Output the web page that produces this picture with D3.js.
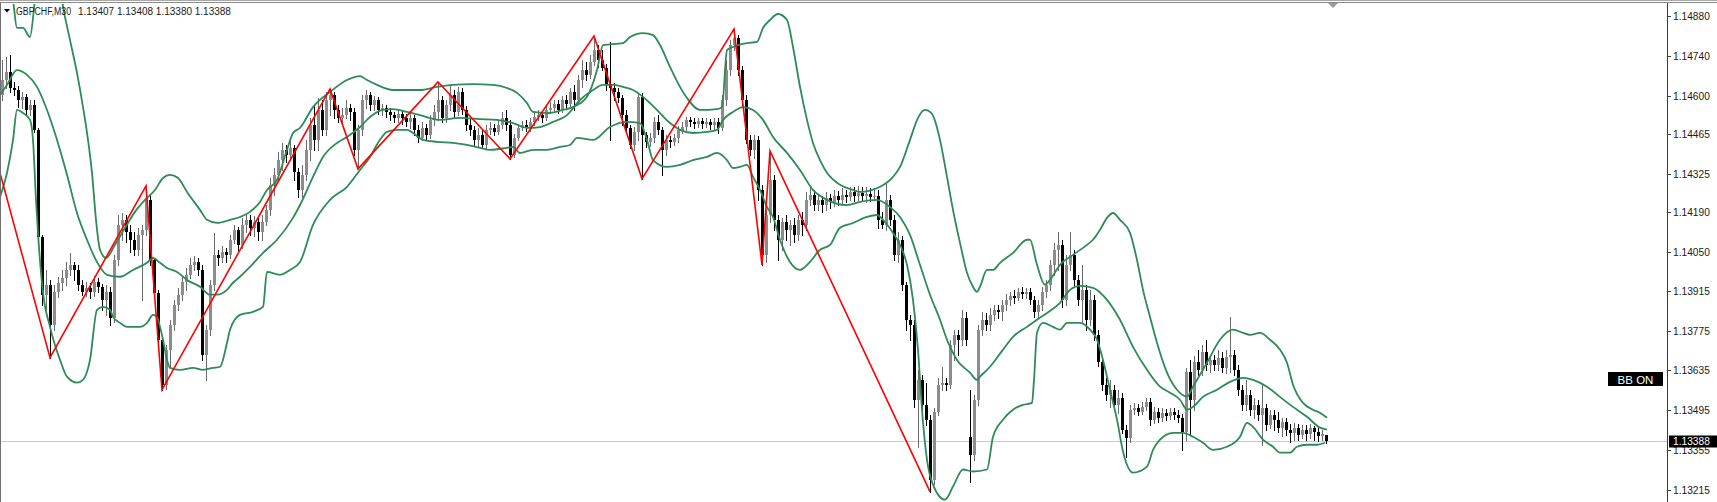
<!DOCTYPE html>
<html><head><meta charset="utf-8">
<script src="https://cdn.jsdelivr.net/npm/d3@7"></script>
<style>html,body{margin:0;padding:0;background:#fff;overflow:hidden}</style>
</head><body>
<svg id="chart" width="1717" height="502"></svg>
<script>
const symbolTitle = "GBPCHF,M30";
const lastQuote = "1.13407 1.13408 1.13380 1.13388";
const bidPrice = 1.13388;
const bidLabel = "1.13388";
const indicatorLabel = "BB ON";
const tickLabels = ["1.14880","1.14740","1.14600","1.14465","1.14325","1.14190","1.14050","1.13915","1.13775","1.13635","1.13495","1.13355","1.13215"];

const open = [1.14603,1.14655,1.14683,1.14627,1.14620,1.14585,1.14596,1.14550,1.14567,1.14480,1.14104,1.13901,1.13936,1.13795,1.13911,1.13943,1.13960,1.13988,1.14006,1.13988,
1.13936,1.13911,1.13925,1.13911,1.13946,1.13929,1.13883,1.13911,1.13820,1.14023,1.14146,1.14164,1.14122,1.14094,1.14059,1.14111,1.14129,1.14234,1.14023,1.13908,
1.13743,1.13585,1.13708,1.13795,1.13865,1.13901,1.13946,1.13971,1.14006,1.14016,1.13988,1.13690,1.13778,1.13936,1.14041,1.14030,1.14052,1.14041,1.14094,1.14129,
1.14076,1.14146,1.14164,1.14136,1.14157,1.14122,1.14157,1.14199,1.14287,1.14322,1.14374,1.14410,1.14392,1.14417,1.14332,1.14269,1.14322,1.14410,1.14497,1.14445,
1.14550,1.14480,1.14585,1.14603,1.14550,1.14522,1.14532,1.14557,1.14543,1.14410,1.14480,1.14585,1.14603,1.14567,1.14585,1.14550,1.14557,1.14543,1.14532,1.14522,
1.14536,1.14522,1.14508,1.14522,1.14480,1.14452,1.14487,1.14462,1.14515,1.14543,1.14585,1.14522,1.14567,1.14603,1.14543,1.14613,1.14550,1.14497,1.14480,1.14445,
1.14462,1.14427,1.14480,1.14487,1.14473,1.14497,1.14522,1.14497,1.14392,1.14452,1.14487,1.14497,1.14487,1.14508,1.14525,1.14532,1.14522,1.14550,1.14557,1.14571,
1.14550,1.14585,1.14571,1.14613,1.14585,1.14655,1.14690,1.14673,1.14718,1.14760,1.14725,1.14697,1.14638,1.14627,1.14613,1.14592,1.14532,1.14487,1.14427,1.14473,
1.14596,1.14462,1.14438,1.14452,1.14508,1.14480,1.14410,1.14445,1.14438,1.14452,1.14480,1.14490,1.14515,1.14508,1.14501,1.14511,1.14501,1.14508,1.14497,1.14508,
1.14487,1.14585,1.14690,1.14778,1.14803,1.14690,1.14585,1.14445,1.14410,1.14445,1.14269,1.14041,1.14181,1.14304,1.14164,1.14094,1.14157,1.14129,1.14146,1.14111,
1.14164,1.14146,1.14234,1.14252,1.14216,1.14234,1.14216,1.14241,1.14227,1.14248,1.14234,1.14252,1.14245,1.14262,1.14248,1.14259,1.14248,1.14255,1.14245,1.14248,
1.14164,1.14146,1.14234,1.14164,1.14041,1.14094,1.13936,1.13813,1.13795,1.13532,1.13602,1.13514,1.13462,1.13251,1.13490,1.13585,1.13592,1.13585,1.13725,1.13760,
1.13743,1.13820,1.13402,1.13339,1.13532,1.13778,1.13813,1.13795,1.13830,1.13848,1.13841,1.13865,1.13883,1.13897,1.13890,1.13911,1.13904,1.13911,1.13883,1.13841,
1.13865,1.13911,1.13936,1.14006,1.14059,1.14076,1.13883,1.14006,1.14041,1.13953,1.13883,1.13918,1.13813,1.13883,1.13760,1.13665,1.13585,1.13550,1.13567,1.13514,
1.13539,1.13427,1.13399,1.13497,1.13504,1.13490,1.13507,1.13525,1.13462,1.13490,1.13469,1.13486,1.13476,1.13490,1.13479,1.13469,1.13420,1.13630,1.13532,1.13665,
1.13637,1.13701,1.13655,1.13672,1.13655,1.13679,1.13644,1.13683,1.13690,1.13637,1.13567,1.13514,1.13550,1.13497,1.13514,1.13479,1.13504,1.13444,1.13479,1.13462,
1.13434,1.13455,1.13427,1.13416,1.13434,1.13409,1.13427,1.13413,1.13434,1.13420,1.13406,1.13407];

const high = [1.14725,1.14736,1.14743,1.14648,1.14634,1.14613,1.14606,1.14585,1.14585,1.14487,1.14111,1.13988,1.13953,1.13936,1.13964,1.13988,1.14016,1.14048,1.14016,1.14006,
1.13953,1.13946,1.13943,1.13967,1.13960,1.13939,1.13936,1.13929,1.14041,1.14181,1.14188,1.14181,1.14146,1.14122,1.14136,1.14146,1.14283,1.14252,1.14030,1.13918,
1.13753,1.13725,1.13813,1.13883,1.13925,1.13967,1.13995,1.14030,1.14037,1.14030,1.14006,1.13795,1.13953,1.14118,1.14059,1.14073,1.14066,1.14111,1.14146,1.14139,
1.14171,1.14185,1.14181,1.14178,1.14174,1.14181,1.14216,1.14311,1.14346,1.14402,1.14434,1.14427,1.14445,1.14427,1.14346,1.14357,1.14445,1.14522,1.14567,1.14592,
1.14585,1.14613,1.14624,1.14613,1.14567,1.14557,1.14585,1.14571,1.14557,1.14497,1.14603,1.14620,1.14613,1.14599,1.14596,1.14571,1.14567,1.14557,1.14543,1.14550,
1.14550,1.14536,1.14543,1.14532,1.14497,1.14508,1.14501,1.14532,1.14567,1.14648,1.14599,1.14585,1.14638,1.14620,1.14631,1.14627,1.14564,1.14522,1.14494,1.14487,
1.14480,1.14497,1.14508,1.14501,1.14515,1.14543,1.14550,1.14515,1.14466,1.14501,1.14511,1.14515,1.14522,1.14543,1.14550,1.14543,1.14564,1.14578,1.14585,1.14585,
1.14599,1.14603,1.14627,1.14638,1.14673,1.14725,1.14718,1.14743,1.14810,1.14778,1.14760,1.14711,1.14789,1.14645,1.14627,1.14603,1.14550,1.14497,1.14490,1.14610,
1.14610,1.14473,1.14469,1.14525,1.14532,1.14490,1.14462,1.14459,1.14466,1.14494,1.14508,1.14525,1.14525,1.14522,1.14522,1.14522,1.14522,1.14518,1.14522,1.14522,
1.14603,1.14725,1.14796,1.14834,1.14813,1.14704,1.14603,1.14462,1.14462,1.14459,1.14287,1.14199,1.14406,1.14322,1.14181,1.14171,1.14181,1.14164,1.14171,1.14181,
1.14192,1.14262,1.14276,1.14269,1.14252,1.14248,1.14262,1.14255,1.14269,1.14266,1.14276,1.14269,1.14280,1.14280,1.14283,1.14280,1.14280,1.14276,1.14276,1.14269,
1.14192,1.14294,1.14252,1.14181,1.14122,1.14108,1.13946,1.13830,1.13813,1.13637,1.13620,1.13592,1.13479,1.13504,1.13609,1.13648,1.13609,1.13743,1.13778,1.13778,
1.13848,1.13841,1.13567,1.13550,1.13795,1.13841,1.13837,1.13855,1.13865,1.13865,1.13883,1.13904,1.13911,1.13918,1.13925,1.13929,1.13925,1.13925,1.13897,1.13883,
1.13929,1.13953,1.14023,1.14083,1.14122,1.14094,1.14041,1.14122,1.14059,1.13971,1.14006,1.13936,1.13918,1.13901,1.13778,1.13683,1.13609,1.13602,1.13585,1.13567,
1.13557,1.13444,1.13514,1.13522,1.13518,1.13525,1.13539,1.13539,1.13507,1.13504,1.13504,1.13500,1.13504,1.13504,1.13497,1.13483,1.13644,1.13672,1.13686,1.13708,
1.13725,1.13743,1.13690,1.13690,1.13708,1.13701,1.13708,1.13823,1.13708,1.13655,1.13585,1.13602,1.13567,1.13539,1.13532,1.13585,1.13518,1.13497,1.13497,1.13490,
1.13469,1.13469,1.13448,1.13451,1.13448,1.13444,1.13444,1.13448,1.13441,1.13434,1.13427,1.13408];

const low = [1.14585,1.14627,1.14613,1.14603,1.14560,1.14557,1.14536,1.14532,1.14473,1.14094,1.13865,1.13848,1.13680,1.13778,1.13894,1.13918,1.13936,1.13971,1.13953,1.13918,
1.13901,1.13897,1.13890,1.13897,1.13911,1.13848,1.13830,1.13795,1.13806,1.14006,1.14094,1.14087,1.14052,1.14041,1.14041,1.13883,1.14111,1.14006,1.13897,1.13736,
1.13567,1.13570,1.13648,1.13778,1.13848,1.13883,1.13918,1.13960,1.13988,1.13971,1.13672,1.13602,1.13760,1.13918,1.14006,1.14016,1.14016,1.14030,1.14083,1.14059,
1.14066,1.14122,1.14111,1.14108,1.14094,1.14094,1.14146,1.14181,1.14252,1.14304,1.14339,1.14367,1.14374,1.14304,1.14245,1.14245,1.14304,1.14374,1.14410,1.14410,
1.14462,1.14462,1.14532,1.14522,1.14508,1.14497,1.14522,1.14515,1.14392,1.14343,1.14462,1.14557,1.14550,1.14550,1.14536,1.14532,1.14525,1.14515,1.14508,1.14508,
1.14501,1.14494,1.14487,1.14462,1.14438,1.14445,1.14445,1.14452,1.14497,1.14515,1.14508,1.14508,1.14550,1.14525,1.14532,1.14536,1.14480,1.14462,1.14427,1.14420,
1.14417,1.14417,1.14466,1.14462,1.14466,1.14487,1.14480,1.14378,1.14385,1.14445,1.14480,1.14476,1.14476,1.14497,1.14515,1.14508,1.14515,1.14539,1.14550,1.14539,
1.14543,1.14557,1.14564,1.14550,1.14571,1.14631,1.14655,1.14662,1.14708,1.14701,1.14690,1.14620,1.14445,1.14585,1.14578,1.14497,1.14473,1.14417,1.14410,1.14445,
1.14308,1.14420,1.14424,1.14438,1.14466,1.14322,1.14392,1.14420,1.14427,1.14438,1.14469,1.14480,1.14494,1.14487,1.14490,1.14487,1.14490,1.14483,1.14480,1.14469,
1.14480,1.14567,1.14673,1.14760,1.14673,1.14567,1.14434,1.14392,1.14381,1.14234,1.14006,1.14016,1.14157,1.14129,1.14023,1.14059,1.14094,1.14076,1.14087,1.14094,
1.14111,1.14129,1.14216,1.14199,1.14199,1.14192,1.14199,1.14206,1.14213,1.14216,1.14220,1.14227,1.14234,1.14231,1.14234,1.14234,1.14227,1.14231,1.14234,1.14136,
1.14136,1.14129,1.14146,1.14023,1.14016,1.13918,1.13778,1.13743,1.13507,1.13367,1.13486,1.13444,1.13209,1.13237,1.13479,1.13567,1.13567,1.13574,1.13672,1.13690,
1.13725,1.13725,1.13244,1.13321,1.13514,1.13760,1.13778,1.13778,1.13813,1.13820,1.13813,1.13848,1.13865,1.13872,1.13883,1.13890,1.13890,1.13869,1.13823,1.13820,
1.13848,1.13894,1.13918,1.13971,1.13988,1.13858,1.13865,1.13988,1.13936,1.13865,1.13802,1.13778,1.13795,1.13743,1.13651,1.13567,1.13532,1.13507,1.13497,1.13486,
1.13416,1.13332,1.13385,1.13483,1.13479,1.13483,1.13497,1.13444,1.13451,1.13455,1.13458,1.13462,1.13465,1.13465,1.13455,1.13356,1.13392,1.13409,1.13497,1.13620,
1.13620,1.13637,1.13630,1.13637,1.13637,1.13630,1.13627,1.13630,1.13620,1.13550,1.13497,1.13497,1.13479,1.13469,1.13462,1.13374,1.13427,1.13434,1.13427,1.13420,
1.13406,1.13409,1.13385,1.13392,1.13392,1.13399,1.13392,1.13399,1.13392,1.13388,1.13392,1.13380];

const close = [1.14655,1.14683,1.14627,1.14620,1.14585,1.14596,1.14550,1.14567,1.14480,1.14104,1.13901,1.13936,1.13795,1.13911,1.13943,1.13960,1.13988,1.14006,1.13988,1.13936,
1.13911,1.13925,1.13911,1.13946,1.13929,1.13883,1.13911,1.13820,1.14023,1.14146,1.14164,1.14122,1.14094,1.14059,1.14111,1.14129,1.14234,1.14023,1.13908,1.13743,
1.13585,1.13708,1.13795,1.13865,1.13901,1.13946,1.13971,1.14006,1.14016,1.13988,1.13690,1.13778,1.13936,1.14041,1.14030,1.14052,1.14041,1.14094,1.14129,1.14076,
1.14146,1.14164,1.14136,1.14157,1.14122,1.14157,1.14199,1.14287,1.14322,1.14374,1.14410,1.14392,1.14417,1.14332,1.14269,1.14322,1.14410,1.14497,1.14445,1.14550,
1.14480,1.14585,1.14603,1.14550,1.14522,1.14532,1.14557,1.14543,1.14410,1.14480,1.14585,1.14603,1.14567,1.14585,1.14550,1.14557,1.14543,1.14532,1.14522,1.14536,
1.14522,1.14508,1.14522,1.14480,1.14452,1.14487,1.14462,1.14515,1.14543,1.14585,1.14522,1.14567,1.14603,1.14543,1.14613,1.14550,1.14497,1.14480,1.14445,1.14462,
1.14427,1.14480,1.14487,1.14473,1.14497,1.14522,1.14497,1.14392,1.14452,1.14487,1.14497,1.14487,1.14508,1.14525,1.14532,1.14522,1.14550,1.14557,1.14571,1.14550,
1.14585,1.14571,1.14613,1.14585,1.14655,1.14690,1.14673,1.14718,1.14760,1.14725,1.14697,1.14638,1.14627,1.14613,1.14592,1.14532,1.14487,1.14427,1.14473,1.14596,
1.14462,1.14438,1.14452,1.14508,1.14480,1.14410,1.14445,1.14438,1.14452,1.14480,1.14490,1.14515,1.14508,1.14501,1.14511,1.14501,1.14508,1.14497,1.14508,1.14487,
1.14585,1.14690,1.14778,1.14803,1.14690,1.14585,1.14445,1.14410,1.14445,1.14269,1.14041,1.14181,1.14304,1.14164,1.14094,1.14157,1.14129,1.14146,1.14111,1.14164,
1.14146,1.14234,1.14252,1.14216,1.14234,1.14216,1.14241,1.14227,1.14248,1.14234,1.14252,1.14245,1.14262,1.14248,1.14259,1.14248,1.14255,1.14245,1.14248,1.14164,
1.14146,1.14234,1.14164,1.14041,1.14094,1.13936,1.13813,1.13795,1.13532,1.13602,1.13514,1.13462,1.13251,1.13490,1.13585,1.13592,1.13585,1.13725,1.13760,1.13743,
1.13820,1.13743,1.13339,1.13532,1.13778,1.13813,1.13795,1.13830,1.13848,1.13841,1.13865,1.13883,1.13897,1.13890,1.13911,1.13904,1.13911,1.13883,1.13841,1.13865,
1.13911,1.13936,1.14006,1.14059,1.14076,1.13883,1.14006,1.14041,1.13953,1.13883,1.13918,1.13813,1.13883,1.13760,1.13665,1.13585,1.13550,1.13567,1.13514,1.13539,
1.13427,1.13399,1.13497,1.13504,1.13490,1.13507,1.13525,1.13462,1.13490,1.13469,1.13486,1.13476,1.13490,1.13479,1.13469,1.13420,1.13630,1.13532,1.13665,1.13637,
1.13701,1.13655,1.13672,1.13655,1.13679,1.13644,1.13683,1.13690,1.13637,1.13567,1.13514,1.13550,1.13497,1.13514,1.13479,1.13504,1.13444,1.13479,1.13462,1.13434,
1.13455,1.13427,1.13416,1.13434,1.13409,1.13427,1.13413,1.13434,1.13420,1.13406,1.13413,1.13388];

// Bollinger band lines: [bar index, price]
const upperBand = [[-5.5,1.15217],[0.75,1.15041],[2.75,1.14936],[3.75,1.14838],[5.25,1.14838],[7,1.14806],[8.25,1.14936],[10.75,1.15147],[13.25,1.15147],[15,1.14936],[17,1.14796],[18.75,1.14680],[20.25,1.14560],[21.5,1.14445],[22.5,1.14329],[23.5,1.14164],[24.5,1.14059],[26,1.14030],[28.25,1.14076],[30.75,1.14136],[33.25,1.14192],[35.75,1.14234],[38.25,1.14269],[40.25,1.14311],[42,1.14322],[44,1.14311],[46.25,1.14262],[49.5,1.14199],[51.25,1.14164],[53.75,1.14153],[57,1.14164],[59.5,1.14174],[62,1.14192],[64.5,1.14227],[66.25,1.14269],[68.75,1.14304],[71.25,1.14410],[72.75,1.14469],[74.5,1.14487],[77.75,1.14560],[82,1.14613],[86.25,1.14655],[89.5,1.14669],[91.25,1.14655],[93.75,1.14638],[97.75,1.14620],[104.5,1.14620],[108.75,1.14631],[112.75,1.14638],[117.75,1.14641],[122.75,1.14638],[126.25,1.14627],[128.75,1.14610],[131.25,1.14574],[132.75,1.14543],[136.25,1.14539],[140.25,1.14550],[142.75,1.14560],[146.25,1.14596],[148.75,1.14690],[150.25,1.14778],[155.25,1.14785],[157,1.14806],[160.25,1.14820],[162.75,1.14813],[164.5,1.14778],[167,1.14701],[169.5,1.14631],[171.25,1.14592],[174.5,1.14550],[178.75,1.14553],[180,1.14560],[181.25,1.14760],[182.75,1.14771],[186.25,1.14785],[188.75,1.14789],[190.25,1.14838],[192,1.14866],[194,1.14887],[196.25,1.14866],[197.75,1.14771],[199.5,1.14631],[201.25,1.14515],[202.75,1.14434],[204.5,1.14374],[206.25,1.14329],[209.5,1.14287],[212.75,1.14269],[214.5,1.14262],[219.5,1.14280],[222.75,1.14315],[224.5,1.14350],[227,1.14445],[229,1.14522],[230.75,1.14550],[232.5,1.14536],[234.5,1.14445],[236.25,1.14315],[237.75,1.14199],[239.5,1.14083],[241.25,1.13978],[242.75,1.13929],[243.75,1.13911],[244.5,1.13929],[246.25,1.13988],[247.75,1.13988],[249.5,1.14013],[252.75,1.14048],[256.25,1.14094],[257,1.14094],[258.75,1.14006],[260.75,1.13936],[262,1.13953],[264.5,1.14006],[267.75,1.14041],[271.25,1.14076],[272.75,1.14094],[274.5,1.14129],[276.25,1.14171],[277.75,1.14188],[279.5,1.14164],[282,1.14118],[283.75,1.14023],[285.25,1.13918],[287,1.13823],[288.75,1.13732],[291.25,1.13627],[293.75,1.13567],[296.25,1.13543],[297.75,1.13578],[301.25,1.13662],[304.5,1.13743],[307.75,1.13778],[310.25,1.13767],[312,1.13760],[314.5,1.13767],[317,1.13743],[319.5,1.13708],[321.25,1.13662],[322.75,1.13585],[325.25,1.13521],[327.75,1.13497],[329.5,1.13486],[331.25,1.13469]];

const middleBand = [[-0.5,1.14603],[1.25,1.14638],[3.75,1.14690],[6.25,1.14673],[8.75,1.14631],[11.25,1.14550],[13.75,1.14445],[16.25,1.14322],[18.75,1.14188],[21.25,1.14094],[23.75,1.14016],[26.25,1.13971],[29.5,1.13964],[32.75,1.13988],[36.25,1.14013],[37.75,1.14030],[39.5,1.14013],[41.25,1.13995],[43.75,1.13981],[46.25,1.13953],[49.5,1.13929],[52,1.13901],[53.75,1.13901],[56.25,1.13918],[57.75,1.13943],[59.5,1.13964],[62,1.13999],[65.25,1.14048],[68.75,1.14094],[72.75,1.14171],[74.5,1.14216],[77.75,1.14315],[80.25,1.14385],[83.75,1.14434],[86.25,1.14455],[89.5,1.14490],[92,1.14525],[95.25,1.14550],[97.75,1.14553],[101.25,1.14543],[104.5,1.14532],[109.5,1.14515],[114.5,1.14522],[119.5,1.14518],[123.75,1.14515],[127.75,1.14504],[131.25,1.14487],[134.5,1.14490],[137.75,1.14508],[141.25,1.14532],[144.5,1.14585],[147.75,1.14620],[150.25,1.14638],[152.75,1.14638],[155.25,1.14631],[157.75,1.14620],[160.25,1.14596],[162,1.14574],[164.5,1.14539],[167,1.14504],[169.5,1.14480],[172.75,1.14469],[176.25,1.14473],[178.75,1.14480],[180.25,1.14515],[182.75,1.14543],[185.25,1.14560],[187.75,1.14550],[190.25,1.14515],[192.75,1.14455],[196.25,1.14399],[199.5,1.14339],[202.75,1.14269],[206.25,1.14234],[211.25,1.14216],[214.5,1.14227],[218.75,1.14234],[222,1.14209],[224.5,1.14174],[227,1.14111],[229.5,1.14006],[232,1.13901],[234.5,1.13813],[236.25,1.13743],[238.75,1.13672],[242,1.13627],[243.75,1.13602],[244.5,1.13613],[247,1.13648],[250.25,1.13708],[252.75,1.13753],[256.25,1.13788],[258.75,1.13813],[261.25,1.13837],[264.5,1.13872],[267,1.13918],[269.5,1.13932],[272.75,1.13925],[276.25,1.13883],[279.5,1.13813],[282.75,1.13718],[286.25,1.13637],[289.5,1.13578],[292,1.13557],[294.5,1.13532],[296.25,1.13497],[297.75,1.13507],[300.25,1.13542],[303.75,1.13567],[307,1.13595],[310.25,1.13609],[312.75,1.13602],[316.25,1.13578],[319.5,1.13542],[322.75,1.13507],[326.25,1.13472],[329.5,1.13434],[331.25,1.13427]];

const lowerBand = [[-0.5,1.14245],[1.25,1.14329],[2.75,1.14445],[3.75,1.14550],[5.25,1.14539],[7,1.14515],[7.75,1.14445],[8.5,1.14234],[9,1.14118],[10.25,1.13908],[12,1.13788],[14.5,1.13672],[16.25,1.13613],[18.75,1.13592],[20.25,1.13602],[22,1.13672],[23.75,1.13848],[25.25,1.13858],[27,1.13848],[27.75,1.13823],[29.5,1.13802],[31.25,1.13788],[34.5,1.13788],[36.25,1.13802],[37.75,1.13830],[38.75,1.13823],[39.5,1.13788],[40.25,1.13743],[41.25,1.13672],[42,1.13644],[44.5,1.13637],[47.75,1.13644],[50.25,1.13637],[52.75,1.13644],[54.5,1.13648],[56.25,1.13732],[57,1.13778],[59.5,1.13830],[62.75,1.13841],[65.25,1.13858],[66.25,1.13981],[69.5,1.13971],[72,1.13988],[74.5,1.14016],[77.75,1.14146],[82,1.14234],[86.25,1.14280],[89.5,1.14339],[92,1.14385],[94.5,1.14445],[96.25,1.14473],[98.75,1.14480],[101.25,1.14480],[102.75,1.14469],[105.25,1.14445],[108.75,1.14438],[112.75,1.14434],[116.25,1.14427],[119.5,1.14417],[122,1.14410],[126.25,1.14417],[127.75,1.14420],[129.5,1.14399],[132.75,1.14410],[136.25,1.14410],[139.5,1.14420],[142,1.14427],[143.75,1.14452],[147.75,1.14445],[152,1.14490],[156.25,1.14508],[159.5,1.14504],[161.25,1.14445],[162.75,1.14374],[166.25,1.14350],[169.5,1.14357],[172.75,1.14374],[176.25,1.14385],[178.75,1.14399],[181.25,1.14374],[182.75,1.14346],[184.5,1.14350],[186.25,1.14357],[187.75,1.14315],[189.5,1.14269],[191.25,1.14209],[192.75,1.14174],[194.5,1.14094],[197,1.14016],[199.5,1.13988],[202,1.14016],[204.5,1.14059],[207,1.14076],[209.5,1.14136],[212.75,1.14153],[216.25,1.14174],[218.75,1.14181],[220.25,1.14164],[222.75,1.14118],[224.5,1.14076],[226.25,1.14006],[227.75,1.13883],[229,1.13708],[230,1.13497],[231.25,1.13321],[232.75,1.13234],[235.75,1.13181],[237.75,1.13227],[240.25,1.13287],[242.75,1.13280],[246.25,1.13287],[247.75,1.13402],[250.25,1.13462],[252.75,1.13497],[255.25,1.13514],[257.5,1.13521],[258,1.13602],[258.75,1.13767],[260.25,1.13802],[262.75,1.13788],[264.5,1.13778],[266.25,1.13802],[269.5,1.13802],[272,1.13778],[273.75,1.13743],[275.25,1.13672],[277,1.13567],[278.75,1.13462],[280.25,1.13350],[282.75,1.13276],[286.25,1.13297],[287.75,1.13356],[289.5,1.13392],[292.75,1.13416],[295.25,1.13416],[297.75,1.13402],[300.25,1.13381],[302.75,1.13356],[306.25,1.13367],[309.5,1.13402],[311.25,1.13451],[312.75,1.13437],[315.25,1.13392],[317.75,1.13367],[319.5,1.13346],[322,1.13346],[323.75,1.13367],[326.25,1.13374],[328.75,1.13374],[330.75,1.13381]];

const zigzag = [[-0.5,1.14329],[12,1.13680],[36,1.14283],[40,1.13567],[82,1.14624],[89,1.14343],[109,1.14648],[127,1.14378],[148,1.14810],[160,1.14308],[183,1.14834],[190,1.14006],[192,1.14406],[232,1.13209]];

const W = 1717, H = 502, plotRight = 1667;
const svg = d3.select('#chart');
const x = d3.scaleLinear().domain([0, close.length - 1]).range([2, 1326]);
const y = d3.scaleLinear().domain([1.13215, 1.14880]).range([490, 16]);

svg.append('rect').attr('width', W).attr('height', H).attr('fill', '#ffffff');
svg.append('defs').append('clipPath').attr('id', 'plot')
  .append('rect').attr('x', 1).attr('y', 4).attr('width', plotRight - 1).attr('height', H - 4);
const g = svg.append('g').attr('clip-path', 'url(#plot)');

// bid line
const by = Math.round(y(bidPrice)) + 0.5;
g.append('line').attr('x1', 0).attr('x2', plotRight).attr('y1', by).attr('y2', by)
  .attr('stroke', '#c8c8c8').attr('stroke-width', 1);

// candles
const cg = g.append('g');
d3.range(close.length).forEach(i => {
  const xc = Math.round(x(i));
  const bull = close[i] >= open[i];
  const col = bull ? '#8c8c8c' : '#000000';
  cg.append('line').attr('x1', xc + 0.5).attr('x2', xc + 0.5)
    .attr('y1', Math.round(y(high[i]))).attr('y2', Math.round(y(low[i])) + 1)
    .attr('stroke', bull ? '#6a6a6a' : '#000').attr('stroke-width', 1);
  const yt = Math.round(y(Math.max(open[i], close[i])));
  const yb = Math.round(y(Math.min(open[i], close[i])));
  cg.append('rect').attr('x', xc - 1).attr('y', yt).attr('width', 3)
    .attr('height', Math.max(1, yb - yt)).attr('fill', col);
});

// Bollinger bands
const bandLine = d3.line().x(d => x(d[0])).y(d => y(d[1])).curve(d3.curveMonotoneX);
[upperBand, middleBand, lowerBand].forEach(b => {
  g.append('path').attr('d', bandLine(b)).attr('fill', 'none')
    .attr('stroke', '#2e8b57').attr('stroke-width', 1.8).attr('stroke-linejoin', 'round');
});

// ZigZag
const zzLine = d3.line().x(d => x(d[0])).y(d => y(d[1]));
g.append('path').attr('d', zzLine(zigzag)).attr('fill', 'none')
  .attr('stroke', '#ff0000').attr('stroke-width', 1.6);

// frame
svg.append('rect').attr('x', 0).attr('y', 0).attr('width', W).attr('height', 1).attr('fill', '#a8a8a8');
svg.append('rect').attr('x', 0).attr('y', 2).attr('width', W).attr('height', 1).attr('fill', '#8a8a8a');
svg.append('rect').attr('x', 0).attr('y', 3).attr('width', 1).attr('height', H - 3).attr('fill', '#6e6e6e');
svg.append('path').attr('d', 'M1328,3 L1338,3 L1333,8 Z').attr('fill', '#9a9a9a');

// right price axis
svg.append('line').attr('x1', plotRight + 0.5).attr('x2', plotRight + 0.5).attr('y1', 3).attr('y2', H)
  .attr('stroke', '#3c3c3c').attr('stroke-width', 1);
const axisG = svg.append('g');
tickLabels.forEach(t => {
  const ty = Math.round(y(+t)) + 0.5;
  axisG.append('line').attr('x1', plotRight + 1).attr('x2', plotRight + 4).attr('y1', ty).attr('y2', ty)
    .attr('stroke', '#3c3c3c');
  axisG.append('text').attr('x', plotRight + 6).attr('y', ty + 3.5).text(t)
    .attr('font-family', 'Liberation Sans, Arial, sans-serif').attr('font-size', 10.2).attr('fill', '#1a1a1a');
});

// bid label
svg.append('rect').attr('x', plotRight + 2).attr('y', by - 6).attr('width', W - plotRight - 2).attr('height', 12).attr('fill', '#000');
svg.append('text').attr('x', plotRight + 6).attr('y', by + 3.5).text(bidLabel)
  .attr('font-family', 'Liberation Sans, Arial, sans-serif').attr('font-size', 10.2).attr('fill', '#fff');

// BB ON label
svg.append('rect').attr('x', 1608).attr('y', 372).attr('width', 55).attr('height', 14).attr('fill', '#000');
svg.append('text').attr('x', 1635.5).attr('y', 383.5).attr('text-anchor', 'middle').text(indicatorLabel)
  .attr('font-family', 'Liberation Sans, Arial, sans-serif').attr('font-size', 11.5).attr('fill', '#fff');

// title
svg.append('path').attr('d', 'M4,9 L10,9 L7,12.5 Z').attr('fill', '#000');
svg.append('text').attr('x', 16).attr('y', 15).text(symbolTitle).attr('textLength', 55).attr('lengthAdjust', 'spacingAndGlyphs')
  .attr('font-family', 'Liberation Sans, Arial, sans-serif').attr('font-size', 10).attr('fill', '#1a1a1a');
svg.append('text').attr('x', 78).attr('y', 15).text(lastQuote)
  .attr('font-family', 'Liberation Sans, Arial, sans-serif').attr('font-size', 10).attr('fill', '#1a1a1a');
</script>
</body></html>
